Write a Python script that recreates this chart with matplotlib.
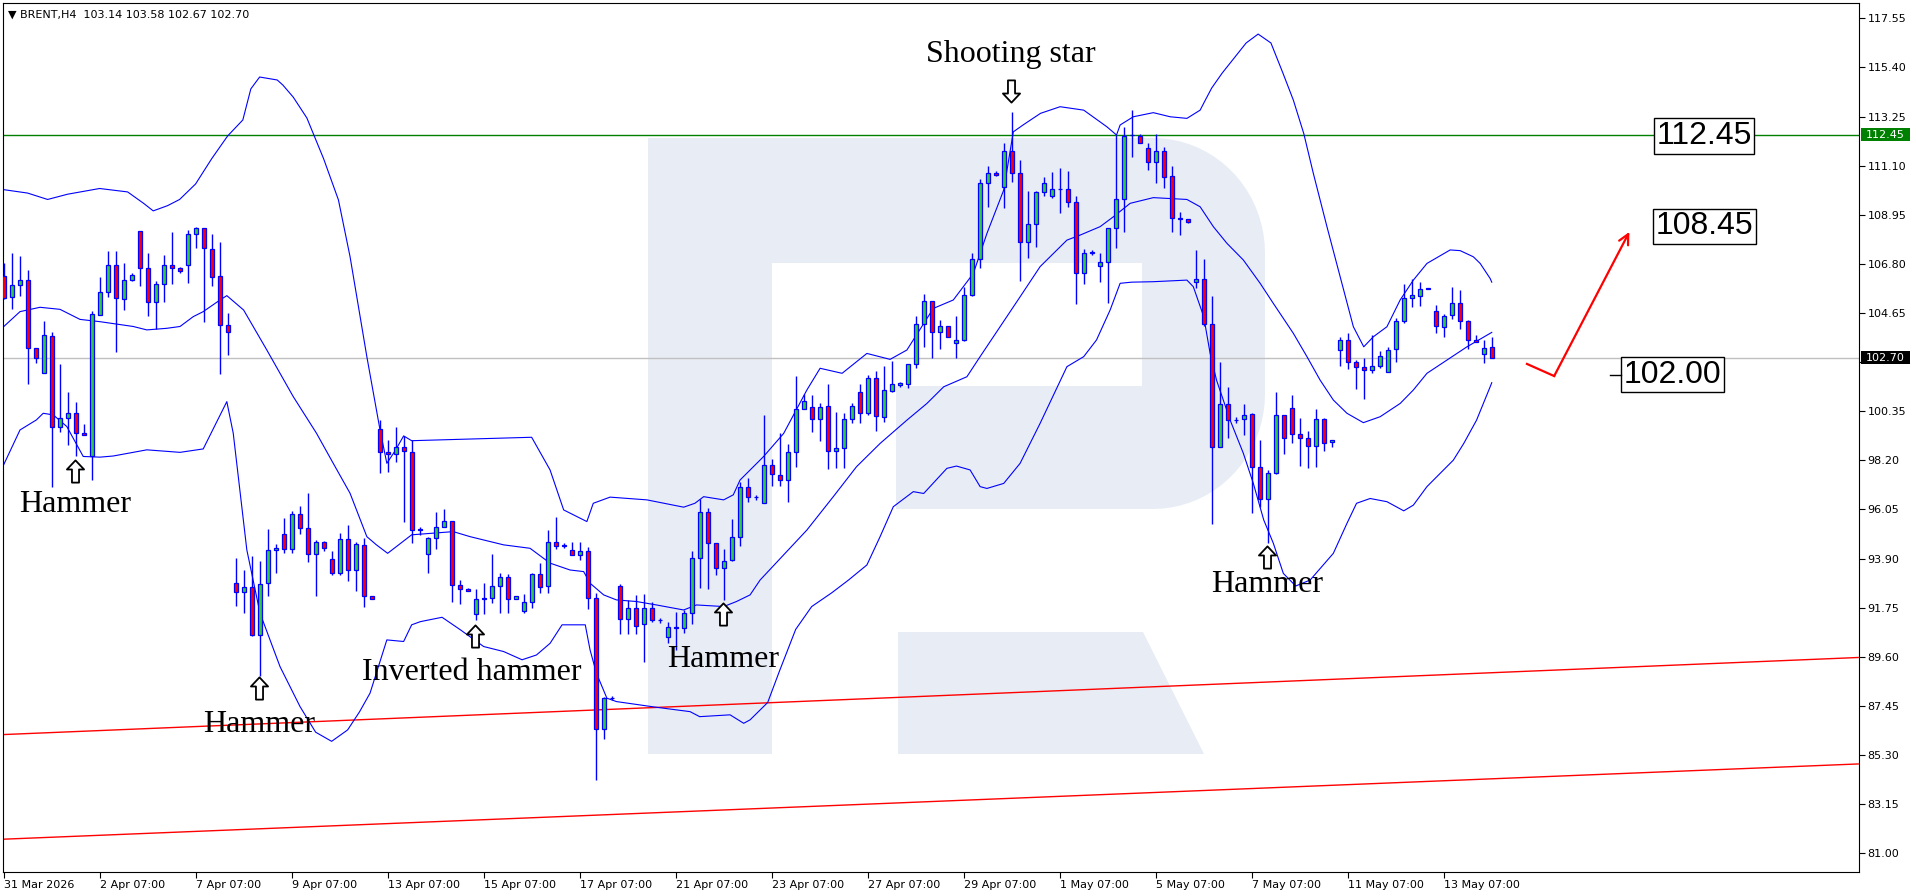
import matplotlib.pyplot as plt
import matplotlib.transforms as mtransforms
from matplotlib.patches import Polygon, Rectangle
from matplotlib.path import Path
import numpy as np

# ---- data (BRENT, H4) ----
opens = [106.29, 105.34, 105.86, 106.08, 103.11, 102.01, 103.63, 99.65, 100.04, 100.26,
         99.39, 98.37, 104.55, 105.56, 106.74, 105.25, 106.08, 108.23, 106.61, 105.12,
         105.91, 106.74, 106.61, 106.74, 108.09, 108.36, 107.44, 106.26, 104.11, 92.82,
         92.43, 92.65, 90.55, 92.82, 94.27, 94.97, 94.31, 95.84, 95.23, 94.09,
         94.62, 93.87, 93.26, 94.75, 93.41, 94.49, 92.27, 99.56, 98.55, 98.48,
         98.77, 98.58, 95.16, 94.09, 94.79, 95.30, 95.55, 92.75, 92.56, 91.46,
         92.14, 92.16, 92.70, 93.08, 92.13, 91.61, 91.99, 93.21, 92.70, 94.64,
         94.47, 94.28, 94.04, 94.21, 92.16, 86.43, 87.80, 92.70, 91.24, 91.73,
         91.04, 91.73, 91.21, 90.46, 90.92, 90.85, 91.50, 93.91, 95.96, 94.60,
         93.48, 93.84, 94.83, 97.02, 96.59, 96.35, 97.98, 97.54, 97.32, 98.55,
         100.43, 100.52, 99.99, 100.58, 98.61, 98.72, 99.99, 101.18, 100.26, 101.79,
         100.11, 101.25, 101.50, 101.53, 102.40, 104.15, 105.16, 103.80, 104.06, 103.32,
         103.47, 105.42, 107.03, 110.32, 110.78, 110.15, 111.75, 110.76, 107.77, 108.53,
         109.93, 109.78, 110.06, 110.06, 109.49, 106.38, 107.29, 106.72, 106.87, 108.38,
         109.65, 112.42, 112.40, 111.86, 111.24, 111.74, 110.64, 108.83, 108.76, 105.99,
         106.12, 104.15, 98.77, 100.65, 99.96, 99.99, 100.23, 97.92, 96.49, 97.63,
         100.18, 100.48, 99.34, 99.16, 98.83, 99.99, 98.99, 103.03, 103.47, 102.49,
         102.27, 102.15, 102.34, 102.05, 103.06, 104.30, 105.29, 105.41, 105.72, 104.75,
         104.02, 104.56, 105.07, 104.30, 103.47, 102.84, 103.14]
highs = [106.83, 107.26, 107.15, 106.53, 103.11, 104.30, 103.81, 102.42, 101.17, 100.76,
         99.80, 104.74, 106.23, 107.37, 107.37, 106.86, 106.42, 108.23, 107.26, 106.07,
         107.19, 108.18, 106.68, 108.28, 108.43, 108.36, 108.09, 107.74, 104.64, 93.92,
         93.41, 94.00, 93.80, 95.19, 94.54, 95.67, 95.97, 96.21, 96.76, 94.70,
         94.67, 94.24, 95.01, 95.38, 94.62, 94.79, 92.27, 99.97, 99.09, 99.68,
         99.27, 99.09, 95.27, 94.85, 95.93, 96.06, 95.55, 92.97, 92.63, 92.57,
         92.82, 94.10, 93.29, 93.23, 92.24, 92.35, 93.29, 93.70, 95.15, 95.71,
         94.57, 94.61, 94.64, 94.39, 92.38, 87.86, 87.90, 92.77, 92.09, 92.31,
         92.35, 92.02, 91.29, 91.14, 91.55, 91.65, 94.23, 96.50, 96.13, 94.60,
         94.31, 95.62, 97.27, 97.42, 96.70, 100.18, 98.24, 99.38, 98.91, 101.89,
         101.10, 101.06, 100.69, 101.54, 100.33, 100.26, 100.69, 101.54, 101.93, 102.12,
         102.33, 102.56, 101.64, 102.40, 104.52, 105.48, 105.16, 104.34, 104.06, 104.52,
         105.80, 107.29, 110.50, 111.10, 110.86, 112.10, 113.43, 111.35, 110.00, 109.99,
         110.59, 110.84, 110.98, 110.86, 109.78, 107.43, 107.40, 107.26, 108.38, 112.44,
         112.80, 113.53, 112.48, 112.10, 112.48, 111.90, 111.08, 109.07, 108.76, 107.41,
         107.00, 105.39, 102.49, 101.42, 100.08, 100.66, 100.26, 99.09, 97.78, 101.18,
         100.18, 101.06, 100.04, 99.48, 100.43, 100.04, 99.09, 103.58, 103.76, 102.59,
         102.69, 103.68, 102.98, 103.18, 104.42, 105.92, 106.12, 106.02, 105.75, 105.00,
         104.61, 105.77, 105.66, 104.34, 103.68, 103.47, 103.58]
lows = [105.27, 104.81, 105.41, 101.53, 102.48, 102.01, 97.05, 99.43, 98.85, 98.37,
        99.30, 97.32, 104.55, 105.37, 102.96, 104.78, 106.04, 105.81, 104.54, 103.95,
        105.12, 105.91, 106.39, 105.95, 107.51, 104.27, 105.85, 101.97, 102.83, 91.84,
        91.50, 90.49, 88.74, 92.24, 93.29, 94.14, 94.16, 94.97, 93.73, 92.24,
        94.24, 93.17, 93.20, 92.94, 92.46, 91.80, 92.14, 97.66, 97.71, 98.14,
        95.52, 94.60, 94.94, 93.29, 94.31, 95.30, 92.02, 91.90, 92.47, 91.21,
        91.46, 91.97, 91.50, 91.50, 92.13, 91.50, 91.73, 92.41, 92.41, 94.31,
        94.35, 94.04, 93.84, 91.68, 84.21, 85.99, 87.70, 90.59, 90.59, 90.59,
        89.39, 91.11, 91.07, 90.22, 89.90, 90.63, 91.03, 92.60, 92.56, 93.16,
        92.09, 93.81, 94.43, 96.39, 96.45, 96.35, 97.08, 97.08, 96.39, 97.92,
        100.43, 99.45, 99.06, 97.80, 97.85, 97.85, 99.85, 99.85, 100.18, 99.50,
        99.89, 101.18, 101.40, 101.35, 102.25, 103.17, 102.69, 103.07, 103.58, 102.69,
        103.42, 105.39, 106.63, 109.30, 110.64, 109.26, 110.40, 106.06, 107.07, 107.55,
        109.77, 109.70, 109.01, 109.30, 105.03, 105.90, 107.19, 106.02, 105.07, 107.51,
        108.21, 111.49, 112.07, 110.91, 110.35, 110.11, 108.21, 108.08, 108.57, 105.76,
        104.08, 95.40, 98.77, 99.19, 99.82, 99.31, 95.88, 96.17, 94.57, 97.60,
        98.48, 98.94, 97.96, 97.85, 97.92, 98.62, 98.77, 102.34, 102.22, 101.31,
        100.87, 102.04, 102.26, 102.05, 102.52, 104.22, 104.90, 104.97, 105.68, 103.76,
        103.58, 104.39, 103.95, 103.06, 103.37, 102.47, 102.67]
closes = [105.32, 105.86, 106.08, 103.11, 102.67, 103.68, 99.65, 100.04, 100.26, 99.39,
          99.30, 104.60, 105.56, 106.74, 105.30, 106.08, 106.30, 106.61, 105.12, 105.91,
          106.74, 106.61, 106.48, 108.09, 108.36, 107.48, 106.21, 104.11, 103.81, 92.43,
          92.65, 90.55, 92.78, 94.27, 94.35, 94.31, 95.84, 95.23, 94.09, 94.62,
          94.35, 93.26, 94.75, 93.41, 94.53, 92.27, 92.14, 98.55, 98.48, 98.77,
          98.61, 95.15, 95.16, 94.79, 95.30, 95.55, 92.75, 92.56, 92.47, 92.12,
          92.14, 92.70, 93.08, 92.12, 92.24, 92.02, 93.21, 92.67, 94.64, 94.47,
          94.47, 94.04, 94.22, 92.16, 86.43, 87.79, 87.80, 91.24, 91.73, 90.94,
          91.73, 91.21, 91.21, 90.92, 90.85, 91.50, 93.91, 95.96, 94.57, 93.48,
          93.81, 94.83, 97.02, 96.58, 96.59, 97.98, 97.59, 97.32, 98.55, 100.43,
          100.81, 99.99, 100.52, 98.61, 98.72, 99.99, 100.58, 100.26, 101.82, 100.14,
          101.28, 101.53, 101.60, 102.40, 104.15, 105.16, 103.80, 104.06, 103.61, 103.47,
          105.42, 107.03, 110.32, 110.76, 110.67, 111.75, 110.76, 107.77, 108.53, 109.93,
          110.32, 110.06, 110.06, 109.49, 106.38, 107.29, 107.29, 106.87, 108.38, 109.65,
          112.41, 112.45, 112.07, 111.24, 111.74, 110.62, 108.83, 108.75, 108.62, 106.12,
          104.15, 98.77, 100.65, 99.96, 99.96, 100.18, 97.89, 96.49, 97.63, 100.18,
          99.16, 99.34, 99.16, 98.83, 99.99, 98.97, 99.09, 103.47, 102.49, 102.27,
          102.15, 102.34, 102.78, 103.03, 104.30, 105.29, 105.44, 105.68, 105.72, 104.08,
          104.52, 105.07, 104.30, 103.47, 103.40, 103.10, 102.70]

# Bollinger bands (bar position, price)
upper_x = [0, 3, 5.5, 8, 12, 15.5, 17.5, 18.7, 20.5, 22, 24, 26, 28, 29.9, 30.9, 32, 34.2,
           34.9, 36.2, 37.9, 40, 41.85, 43.3, 45.4, 47.05, 47.9, 48.9, 50, 51, 66, 68.3,
           70, 72.9, 73.7, 75.8, 80.4, 85, 86.4, 87.5, 90, 91.2, 92.05, 94.97, 97.5,
           100.4, 102.05, 104.8, 107.9, 110.8, 112.9, 116.2, 118.7, 121.2, 122.9, 125,
           126.2, 127.5, 129.6, 132.05, 135, 137.9, 139.1, 139.55, 141.2, 143.7, 145.8,
           147.9, 149.55, 150.2, 151, 152.3, 155.3, 156.8, 158.4, 159.9, 161.2, 162.5,
           163.7, 165.4, 167.05, 168.7, 170, 171.2, 172.9, 174.55, 176.2, 177.9, 180.8,
           182.05, 183.7, 184.55, 185.8, 186]
upper_y = [110.05, 109.90, 109.62, 109.85, 110.10, 109.95, 109.45, 109.12, 109.35, 109.62,
           110.30, 111.40, 112.40, 113.10, 114.46, 114.98, 114.85, 114.63, 114.10, 113.19,
           111.40, 109.60, 107.12, 102.74, 99.53, 98.07, 98.60, 99.27, 99.06, 99.21, 97.78,
           96.03, 95.52, 96.32, 96.59, 96.47, 96.15, 96.32, 96.61, 96.47, 96.69, 97.34,
           98.36, 99.38, 101.28, 102.23, 102.01, 102.88, 102.62, 103.03, 104.85, 105.22,
           106.38, 108.13, 110.03, 112.58, 112.90, 113.39, 113.68, 113.53, 112.80, 112.44,
           112.88, 113.24, 113.42, 113.24, 113.17, 113.53, 113.97, 114.50, 115.15, 116.47,
           116.86, 116.47, 115.15, 113.97, 112.51, 110.76, 108.43, 106.24, 104.05, 103.17,
           103.61, 104.05, 105.22, 106.09, 106.82, 107.41, 107.38, 107.11, 106.82, 106.16,
           106.00]
mid_x = [0, 2.05, 4.55, 7.05, 9.55, 12.05, 16.2, 17.9, 20.4, 22.05, 23.7, 24.95, 27.05,
         27.9, 30, 32.9, 36.2, 39.1, 41.2, 43.3, 45.4, 46.6, 48, 51, 56.2, 58.3, 62.5,
         65.8, 68.3, 70.8, 72.5, 73.3, 75, 76.6, 79.1, 81.6, 85, 86.6, 90, 91.6, 93.3,
         94.55, 100.4, 103.7, 106.6, 109.55, 112.9, 115.4, 117.5, 120.4, 122.05, 124.55,
         127.05, 129.55, 132.9, 134.55, 137.05, 138.7, 140.8, 143.7, 147.9, 149.55,
         151.2, 152.9, 154.95, 157.05, 158.7, 161.2, 162.9, 164.55, 166.2, 167.9, 169.95,
         172.05, 174.55, 176.2, 177.9, 180.4, 182.9, 185.8, 186]
mid_y = [104.05, 104.71, 104.90, 104.81, 104.37, 104.27, 104.06, 103.91, 103.98, 104.06,
         104.49, 104.71, 105.22, 105.41, 104.78, 103.03, 100.99, 99.39, 98.07, 96.76,
         94.86, 94.50, 94.13, 94.94, 95.08, 94.86, 94.50, 94.35, 93.70, 93.40, 93.33,
         92.82, 92.31, 92.09, 92.02, 91.87, 91.65, 91.87, 91.80, 92.02, 92.31, 92.96,
         95.15, 96.61, 97.92, 98.94, 99.96, 100.69, 101.42, 101.86, 102.74, 104.05,
         105.36, 106.68, 107.84, 108.06, 108.43, 108.86, 109.45, 109.70, 109.62, 109.30,
         108.43, 107.70, 106.97, 105.95, 105.07, 103.76, 102.74, 101.71, 100.84, 100.26,
         99.85, 100.11, 100.69, 101.28, 102.01, 102.59, 103.17, 103.76, 103.80]
lower_x = [0, 2.05, 4.1, 4.95, 6.2, 7.9, 9.95, 12.05, 13.7, 17.9, 22.05, 24.95, 27.9, 28.7,
           30.4, 32.05, 34.55, 37.05, 39, 41, 43, 44.5, 45.8, 47.9, 50, 51, 52.1, 54.8,
           57.1, 60, 62.5, 64.8, 66.6, 68.3, 69.8, 72.7, 73.3, 74.1, 75.4, 76.6, 81.6,
           85.8, 87, 90.8, 92.5, 93.3, 95.5, 97, 99, 101, 103.5, 105.6, 107.9, 109.55,
           111.2, 113.7, 115, 117.9, 119.1, 120.8, 122.05, 122.9, 125, 127.05, 129.55,
           132.9, 135, 136.6, 138.3, 139.55, 141, 143.7, 147.9, 148.7, 150, 150.8, 151.6,
           153.3, 154.95, 156.2, 157.5, 158.7, 159.95, 161.5, 163.3, 166.2, 167.9, 169.1,
           170.8, 172.9, 175, 176.2, 177.9, 179.55, 181.2, 182.5, 184.1, 185.8, 186]
lower_y = [98.00, 99.53, 99.97, 100.26, 100.19, 99.68, 98.37, 98.34, 98.39, 98.66, 98.55,
           98.70, 100.77, 99.39, 94.28, 91.51, 89.17, 87.42, 86.30, 85.90, 86.40, 87.20,
           88.01, 90.34, 90.27, 91.00, 91.14, 91.33, 90.78, 90.05, 89.83, 89.47, 89.68,
           90.19, 91.00, 91.00, 89.90, 88.88, 87.79, 87.64, 87.39, 87.20, 86.98, 87.06,
           86.69, 86.84, 87.60, 89.00, 90.80, 91.80, 92.40, 92.96, 93.62, 94.86, 96.17,
           96.83, 96.75, 97.85, 97.95, 97.78, 97.05, 96.97, 97.19, 98.07, 99.82, 102.30,
           102.74, 103.47, 104.78, 105.95, 106.00, 106.02, 106.09, 105.80, 104.49, 102.88,
           101.71, 99.96, 98.51, 97.19, 95.59, 94.57, 93.25, 92.70, 92.96, 94.13, 95.44,
           96.32, 96.53, 96.39, 95.99, 96.24, 97.05, 97.63, 98.21, 98.94, 99.96, 101.42,
           101.60]

# trend channel (red) and forecast arrow
channel_x = [-0.45, 231.8]
channel_top = [86.19, 89.57]
channel_bottom = [81.61, 84.91]
arrow_x = [190.4, 193.8, 203.2]
arrow_y = [102.42, 101.89, 108.20]

resistance = 112.45
last_price = 102.70
targets = ['112.45', '108.45', '102.00']
target_pos = [(212.55, 112.40), (212.55, 108.44), (208.55, 101.94)]

yticks = [117.55, 115.40, 113.25, 111.10, 108.95, 106.80, 104.65, 102.50, 100.35, 98.20,
          96.05, 93.90, 91.75, 89.60, 87.45, 85.30, 83.15, 81.00]
xtick_pos = list(range(0, 181, 12))
xtick_labels = ['31 Mar 2026', '2 Apr 07:00', '7 Apr 07:00', '9 Apr 07:00', '13 Apr 07:00',
                '15 Apr 07:00', '17 Apr 07:00', '21 Apr 07:00', '23 Apr 07:00', '27 Apr 07:00',
                '29 Apr 07:00', '1 May 07:00', '5 May 07:00', '7 May 07:00', '11 May 07:00',
                '13 May 07:00']

# pattern labels: text, bar, baseline price, arrow price, arrow points up
patterns = [('Hammer', 8.93, 95.94, 97.74, True),
            ('Hammer', 31.9, 86.31, 88.24, True),
            ('Inverted hammer', 58.5, 88.59, 90.52, True),
            ('Hammer', 89.9, 89.16, 91.47, True),
            ('Shooting star', 125.9, 115.64, 114.37, False),
            ('Hammer', 157.9, 92.44, 93.97, True)]
arrow_bar = [8.93, 31.9, 58.9, 89.9, 125.9, 157.9]

W, H = 1916, 896
fig = plt.figure(figsize=(W / 100, H / 100), dpi=100)
fig.patch.set_facecolor('white')
ax = fig.add_axes([3 / W, 24 / H, 1856 / W, 869 / H])
ax.set_xlim(-0.075, 231.9)
ax.set_ylim(80.18, 118.22)

# background logo watermark (pixel layout -> figure fraction)
wm = '#E8EDF5'
def fpts(pts):
    return [(x / W, 1 - y / H) for x, y in pts]

ax.add_patch(Polygon(fpts([(648, 138), (772, 138), (772, 754), (648, 754)]),
                     closed=True, fc=wm, ec='none', transform=fig.transFigure, zorder=0))
t1 = np.linspace(np.pi / 2, 0, 20)
t2 = np.linspace(0, -np.pi / 2, 20)
bowl = [(772, 138), (1153, 138)]
bowl += [(1153 + 112 * np.cos(t), 253 - 115 * np.sin(t)) for t in t1]
bowl += [(1153 + 112 * np.cos(t), 394 - 115 * np.sin(t)) for t in t2]
bowl += [(896, 509), (896, 386), (1142, 386), (1142, 263), (772, 263)]
ax.add_patch(Polygon(fpts(bowl), closed=True, fc=wm, ec='none',
                     transform=fig.transFigure, zorder=0))
ax.add_patch(Polygon(fpts([(898, 632), (1143, 632), (1204, 754), (898, 754)]),
                     closed=True, fc=wm, ec='none', transform=fig.transFigure, zorder=0))

# horizontal levels and channel
ax.axhline(resistance, color='#008000', lw=1, zorder=1)
ax.axhline(last_price, color='#C0C0C0', lw=1, zorder=1)
ax.plot(channel_x, channel_top, color='red', lw=1, zorder=1)
ax.plot(channel_x, channel_bottom, color='red', lw=1, zorder=1)

# Bollinger bands
for bx, by in [(upper_x, upper_y), (mid_x, mid_y), (lower_x, lower_y)]:
    ax.plot(bx, by, color='#0000FF', lw=0.8, zorder=2)

# candles
o = np.array(opens); h = np.array(highs); l = np.array(lows); c = np.array(closes)
idx = np.arange(len(o))
ax.vlines(idx, l, h, color='#0000FF', lw=1, zorder=3)
body_lo = np.minimum(o, c)
body_h = np.maximum(np.abs(c - o), 0.015)
cols = np.where(c > o, '#32CD32', np.where(c < o, '#FF0000', '#0000FF'))
ax.bar(idx, body_h, bottom=body_lo, width=0.52, color=cols, edgecolor='#0000FF',
       linewidth=0.9, zorder=4)

# forecast arrow
ax.plot(arrow_x[:2], arrow_y[:2], color='red', lw=1.6, zorder=5)
ax.annotate('', xy=(arrow_x[2], arrow_y[2]), xytext=(arrow_x[1], arrow_y[1]),
            arrowprops=dict(arrowstyle='->', color='red', lw=1.6, mutation_scale=18,
                            shrinkA=0, shrinkB=0), zorder=5)

# target boxes
for txt, (bx, by) in zip(targets, target_pos):
    ax.text(bx, by, txt, fontsize=23, family='Liberation Sans', ha='center', va='center',
            bbox=dict(boxstyle='square,pad=0.08', fc='white', ec='black', lw=1), zorder=6)
ax.plot([200.75, 202.1], [101.94, 101.94], color='black', lw=1, zorder=6)

# hollow arrow markers
up_verts = [(0, 11), (8.5, 2), (3.5, 2), (3.5, -11), (-3.5, -11), (-3.5, 2), (-8.5, 2), (0, 11)]
up_arrow = Path(up_verts, closed=True)
down_arrow = Path([(x, -y) for x, y in up_verts], closed=True)

# pattern annotations
for (txt, bx, base, ap, up), abx in zip(patterns, arrow_bar):
    ax.text(bx, base, txt, fontsize=23, family='Liberation Serif',
            ha='center', va='baseline', zorder=6)
    ax.plot([abx], [ap], marker=up_arrow if up else down_arrow, markersize=16,
            mfc='white', mec='black', mew=1.3, ls='none', zorder=6)

# header
ax.text(0.0025, 0.992, '\u25bc BRENT,H4  103.14 103.58 102.67 102.70', transform=ax.transAxes,
        fontsize=8, family='DejaVu Sans', ha='left', va='top', zorder=7)

# axes styling
for s in ax.spines.values():
    s.set_color('black')
    s.set_linewidth(0.8)
ax.yaxis.tick_right()
ax.set_yticks(yticks)
# the 102.50 label sits under the last-price tag
ax.set_yticklabels(['' if abs(v - 102.50) < 1e-6 else '%.2f' % v for v in yticks])
ax.set_xticks(xtick_pos)
ax.set_xticklabels(xtick_labels)
ax.tick_params(axis='both', direction='out', length=4, width=0.8, labelsize=8,
               colors='black', pad=2)
for lbl in ax.get_xticklabels():
    lbl.set_horizontalalignment('left')

# right-axis price tags
blend = mtransforms.blended_transform_factory(ax.transAxes, ax.transData)
x0 = (1861 - 3) / 1856
x1 = (1910 - 3) / 1856
for price, fc in [(resistance, '#008000'), (last_price, 'black')]:
    ax.add_patch(Rectangle((x0, price - 0.28), x1 - x0, 0.56, transform=blend, fc=fc,
                           ec='none', clip_on=False, zorder=8))
    ax.text((1866 - 3) / 1856, price, '%.2f' % price, transform=blend, color='white',
            fontsize=8, family='DejaVu Sans', ha='left', va='center', clip_on=False, zorder=9)

fig.savefig('out.png', dpi=100, facecolor='white')
